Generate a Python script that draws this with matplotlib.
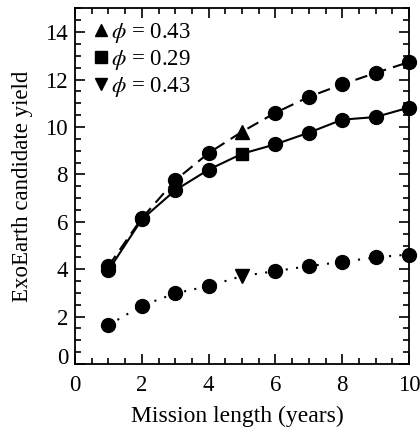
import numpy as np
import matplotlib.pyplot as plt
from matplotlib.lines import Line2D
from matplotlib.ticker import MultipleLocator

plt.rcParams['font.family'] = ['Liberation Serif', 'DejaVu Serif']
plt.rcParams['mathtext.fontset'] = 'stix'

# 任务时长（年）
years = np.arange(1, 11)
# 三条曲线的产出
yield_dashed = [4.13, 6.15, 7.75, 8.9, 9.8, 10.6, 11.27, 11.8, 12.28, 12.74]
yield_solid = [3.95, 6.1, 7.33, 8.2, 8.87, 9.27, 9.76, 10.31, 10.42, 10.82]
yield_dotted = [1.64, 2.46, 2.98, 3.29, 3.71, 3.92, 4.13, 4.31, 4.5, 4.62]
# 第5年的特殊标记
special_idx = 4
legend_labels = [r'$\phi$ = 0.43', r'$\phi$ = 0.29', r'$\phi$ = 0.43']
y_ticks = [0, 2, 4, 6, 8, 10, 12, 14]

fig = plt.figure(figsize=(4.2, 4.29), dpi=100)
ax = fig.add_axes([0.1786, 0.1515, 0.7952, 0.8287])

ms = 10
others = [i for i in range(len(years)) if i != special_idx]
series = [(yield_dashed, (0, (6, 3.5)), '^'),
          (yield_solid, '-', 's'),
          (yield_dotted, (0, (1, 4)), 'v')]
for ys, ls, mk in series:
    ys = np.array(ys)
    ax.plot(years, ys, color='k', linestyle=ls, lw=1.5)
    ax.plot(years[others], ys[others], 'o', color='k', ms=ms, clip_on=False)
    ax.plot(years[special_idx], ys[special_idx], mk, color='k',
            ms=ms - (1 if mk == 's' else 0), clip_on=False)

handles = [Line2D([], [], marker=m, color='k', ls='none', ms=9) for m in ['^', 's', 'v']]
ax.legend(handles, legend_labels, loc='upper left', frameon=False, fontsize=16.5,
          handlelength=0.6, handletextpad=0.15, labelspacing=0.12,
          borderaxespad=0.0, bbox_to_anchor=(0.03, 0.99))

ax.set_xlim(0, 10)
ax.set_ylim(0, 15)
ax.xaxis.set_major_locator(MultipleLocator(2))
ax.xaxis.set_minor_locator(MultipleLocator(0.5))
ax.set_yticks(y_ticks)
ax.yaxis.set_minor_locator(MultipleLocator(0.5))
ax.tick_params(which='both', direction='in', top=True, right=True, width=1.2,
               labelsize=16.5)
ax.tick_params(which='major', length=7)
ax.tick_params(which='minor', length=4)
ax.tick_params(axis='x', which='major', pad=8)
ax.tick_params(axis='y', which='major', pad=5)
for s in ax.spines.values():
    s.set_linewidth(1.3)

ax.set_xlabel('Mission length (years)', fontsize=17, labelpad=7)
ax.xaxis.label.set_x(0.4865)
ax.set_ylabel('ExoEarth candidate yield', fontsize=16.5, labelpad=9)

# 纵轴“0”标签基线对齐到轴线
fig.canvas.draw()
ax.yaxis.get_major_ticks()[0].label1.set_verticalalignment('baseline')

fig.savefig('out.png', dpi=100)
